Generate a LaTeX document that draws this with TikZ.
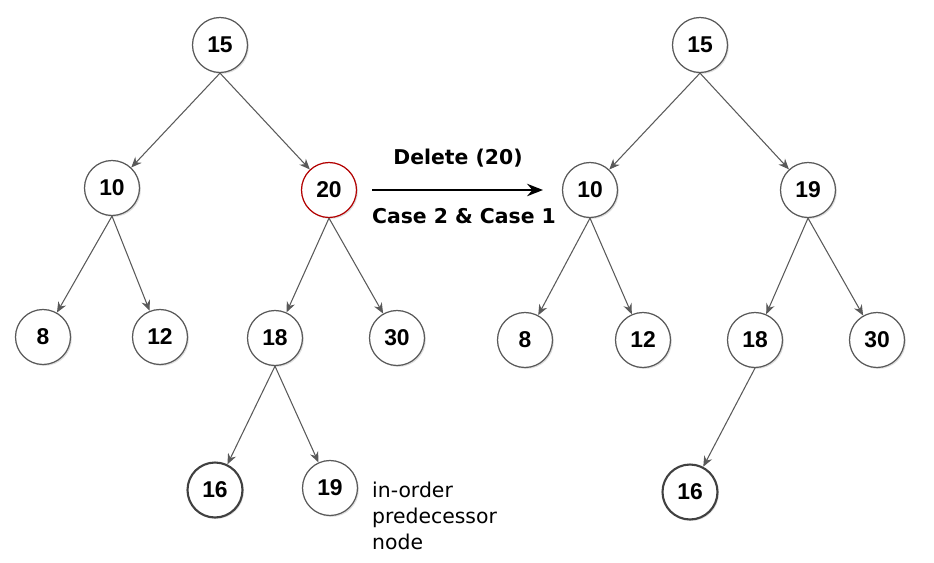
\documentclass[tikz,border=0pt]{standalone}
\usepackage{fontspec}
\setmainfont{Liberation Sans}
\newfontfamily\notefont{DejaVu Sans}
\usetikzlibrary{arrows.meta,shadows}

\begin{document}
\begin{tikzpicture}[x=0.02cm,y=-0.02cm]
    % `key' is used for every tree node.
    % `removed' marks the node that is deleted, `leaf' the thick one.
    % `edge' is used for the links from parent to child.
    \tikzstyle{key} = [draw=gray!70!black,fill=white,circle,minimum size=1.1cm,inner sep=0pt,
                       line width=0.7pt,font=\bfseries\fontsize{13}{15}\selectfont,
                       drop shadow={opacity=0.25,shadow xshift=0.8pt,shadow yshift=-0.8pt}]
    \tikzstyle{removed} = [key,draw=red!70!black]
    \tikzstyle{leaf} = [key,draw=black!75,line width=1.2pt]
    \tikzstyle{edge} = [draw=black!65,line width=0.6pt,-{Stealth[length=6pt,width=5pt]}]
    \tikzstyle{note} = [font=\notefont\fontsize{11.6}{14.8}\selectfont]
    \tikzstyle{step label} = [font=\notefont\bfseries\fontsize{11.6}{13}\selectfont]
    %
    \useasboundingbox (0,0) rectangle (934,562);
    % Tree before the deletion.
    \node[key] (a15) at (220,45) {15};
    \node[key] (a10) at (112,188) {10};
    \node[removed] (a20) at (329,190) {20};
    \node[key] (a8) at (43,337) {8};
    \node[key] (a12) at (160,337) {12};
    \node[key] (a18) at (275,338) {18};
    \node[key] (a30) at (397,338) {30};
    \node[leaf] (a16) at (215,490) {16};
    \node[key] (a19) at (330,488) {19};
    \node[note,anchor=north west,align=left] (pred) at (366,476)
        {in-order\\predecessor\\node};
    %
    \draw[edge] (a15.south) -- (a10);
    \draw[edge] (a15.south) -- (a20);
    \draw[edge] (a10.south) -- (a8);
    \draw[edge] (a10.south) -- (a12);
    \draw[edge] (a20.south) -- (a18);
    \draw[edge] (a20.south) -- (a30);
    \draw[edge] (a18.south) -- (a16);
    \draw[edge] (a18.south) -- (a19);
    % Step arrow.
    \coordinate (go0) at (372,190);
    \coordinate (go1) at (543,190);
    \draw[line width=1.4pt,-{Stealth[length=9pt,width=7pt]}] (go0) -- (go1);
    \node[step label] (del) at (458,158) {Delete (20)};
    \node[step label] (case) at (464,216) {Case 2 \& Case 1};
    % Tree after the deletion.
    \node[key] (b15) at (700,45) {15};
    \node[key] (b10) at (590,190) {10};
    \node[key] (b19) at (808,190) {19};
    \node[key] (b8) at (525,340) {8};
    \node[key] (b12) at (643,340) {12};
    \node[key] (b18) at (755,340) {18};
    \node[key] (b30) at (877,340) {30};
    \node[leaf] (b16) at (690,492) {16};
    %
    \draw[edge] (b15.south) -- (b10);
    \draw[edge] (b15.south) -- (b19);
    \draw[edge] (b10.south) -- (b8);
    \draw[edge] (b10.south) -- (b12);
    \draw[edge] (b19.south) -- (b18);
    \draw[edge] (b19.south) -- (b30);
    \draw[edge] (b18.south) -- (b16);
\end{tikzpicture}
\end{document}
